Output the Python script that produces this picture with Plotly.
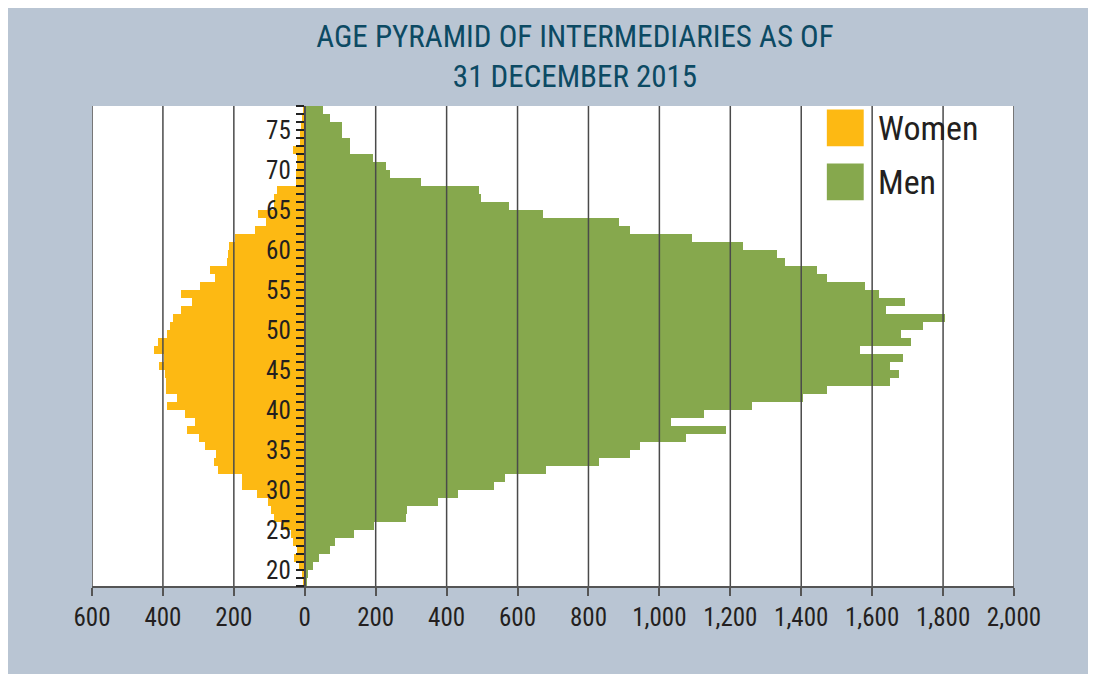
"""
Age pyramid of intermediaries, 31 December 2015
"""
import plotly.graph_objects as go

ages = list(range(18, 78))

women = [4, 7, 15, 29, 22, 33, 40, 60, 87, 95,
         105, 136, 177, 177, 245, 255, 250, 281, 298, 331,
         309, 339, 389, 360, 390, 392, 394, 411, 397, 425,
         414, 388, 381, 373, 348, 318, 350, 295, 253, 268,
         219, 217, 215, 196, 140, 110, 131, 88, 88, 78,
         26, 24, 23, 23, 32, 14, 14, 10, 8, 5]

men = [6, 10, 24, 39, 70, 85, 138, 194, 285, 289,
       376, 431, 533, 566, 681, 831, 916, 944, 1075, 1187,
       1034, 1126, 1261, 1404, 1472, 1651, 1675, 1649, 1687, 1565,
       1710, 1680, 1743, 1806, 1640, 1692, 1619, 1580, 1472, 1444,
       1355, 1332, 1237, 1092, 916, 886, 673, 577, 496, 490,
       329, 239, 230, 193, 127, 127, 105, 105, 72, 52]

x_ticks = list(range(-600, 2001, 200))
x_labels = ['{:,}'.format(abs(v)) for v in x_ticks]
y_ticks = list(range(18, 79))
y_labels = [str(v) if v % 5 == 0 and 20 <= v <= 75 else '' for v in y_ticks]

yellow = '#fdb913'
green = '#86a84d'
panel = '#b9c5d3'
font = 'Roboto Condensed, Liberation Sans Narrow, Roboto, sans-serif'

fig = go.Figure()
fig.add_trace(go.Bar(
    y=[a + 0.5 for a in ages], x=[-v for v in women], width=1,
    orientation='h', name='Women', marker=dict(color=yellow, line=dict(width=0)),
))
fig.add_trace(go.Bar(
    y=[a + 0.5 for a in ages], x=men, width=1,
    orientation='h', name='Men', marker=dict(color=green, line=dict(width=0)),
))

# vertical grid lines sit on top of the bars in the original
for v in x_ticks:
    fig.add_shape(type='line', xref='x', yref='paper', x0=v, x1=v, y0=0, y1=1,
                  line=dict(color='#4a4a4a', width=1.5), layer='above')

# legend drawn by hand (big square swatches)
fig.add_shape(type='rect', xref='paper', yref='paper', x0=0.797, x1=0.837,
              y0=0.9163, y1=0.9927, fillcolor=yellow, line=dict(width=0))
fig.add_shape(type='rect', xref='paper', yref='paper', x0=0.797, x1=0.837,
              y0=0.8038, y1=0.8802, fillcolor=green, line=dict(width=0))
fig.add_annotation(text='Women', xref='paper', yref='paper', x=0.8503, y=0.9552,
                   xanchor='left', yanchor='middle', showarrow=False,
                   font=dict(size=34, color='#231f20', family=font))
fig.add_annotation(text='Men', xref='paper', yref='paper', x=0.8503, y=0.8427,
                   xanchor='left', yanchor='middle', showarrow=False,
                   font=dict(size=34, color='#231f20', family=font))

fig.update_layout(
    width=1096, height=674,
    margin=dict(l=84, r=90, t=98, b=96),
    paper_bgcolor=panel, plot_bgcolor='white',
    barmode='overlay', bargap=0, showlegend=False,
    font=dict(family=font, color='#231f20', size=25),
    title=dict(text='AGE PYRAMID OF INTERMEDIARIES AS OF<br>31 DECEMBER 2015',
               x=567 / 1096, xanchor='center', y=1 - 39 / 674, yanchor='middle',
               font=dict(size=31, color='#0c4a63', family=font)),
    xaxis=dict(range=[-600, 2000], tickvals=x_ticks, ticktext=x_labels,
               showgrid=False, zeroline=False, showline=True, linecolor='#555',
               linewidth=2, ticks='outside', ticklen=8, tickcolor='#555', tickwidth=1.5,
               tickfont=dict(size=25, color='#231f20'), fixedrange=True),
    yaxis=dict(range=[18, 78], tickvals=y_ticks, ticktext=y_labels,
               anchor='free', position=600 / 2600, showgrid=False, zeroline=False,
               showline=True, linecolor='#555', linewidth=2,
               ticks='outside', ticklen=8, tickcolor='#222', tickwidth=1.5,
               tickfont=dict(size=25, color='#231f20'), fixedrange=True),
)

fig.write_html('out.html')
